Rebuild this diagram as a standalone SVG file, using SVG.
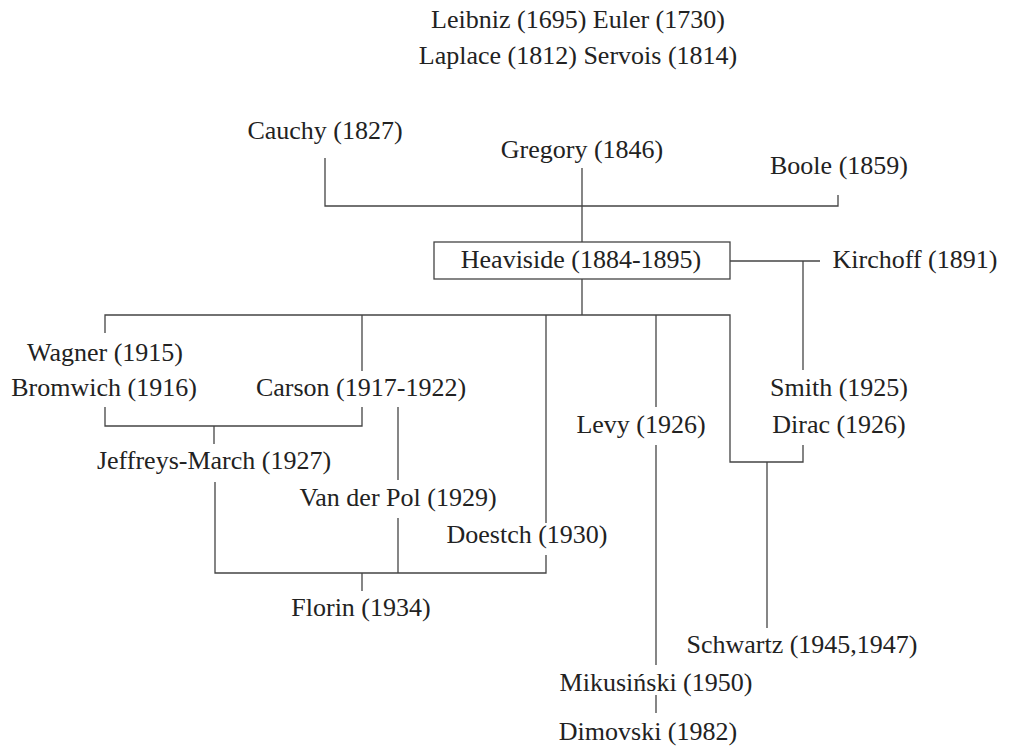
<svg xmlns="http://www.w3.org/2000/svg" width="1011" height="751" viewBox="0 0 1011 751">
<style>
text{font-family:"Liberation Serif","Times New Roman",serif;font-size:26px;fill:#222;text-anchor:middle}
.c line,.c polyline{stroke:#444;stroke-width:1.3;fill:none}
rect.box{fill:#fff;stroke:#444;stroke-width:1.3}
</style>
<rect width="1011" height="751" fill="#fff"/>
<g id="connectors" class="c">
<polyline points="325,158 325,206 838,206 838,195"/>
<line x1="582" y1="168" x2="582" y2="242"/>
<line x1="730" y1="261" x2="820" y2="261"/>
<line x1="803" y1="261" x2="803" y2="370"/>
<line x1="582" y1="279" x2="582" y2="315"/>
<polyline points="105,333 105,315 730,315 730,462 803,462 803,445"/>
<line x1="362" y1="315" x2="362" y2="371"/>
<line x1="546" y1="315" x2="546" y2="523"/>
<line x1="656" y1="315" x2="656" y2="407"/>
<polyline points="105,407 105,426 362,426 362,407"/>
<line x1="214" y1="426" x2="214" y2="444"/>
<line x1="398" y1="407" x2="398" y2="480"/>
<polyline points="215,482 215,573 546,573 546,555"/>
<line x1="398" y1="518" x2="398" y2="573"/>
<line x1="362" y1="573" x2="362" y2="591"/>
<line x1="656" y1="445" x2="656" y2="665"/>
<line x1="656" y1="695" x2="656" y2="713"/>
<line x1="767" y1="462" x2="767" y2="628"/>
</g>
<g id="n-leibniz"><text x="578" y="28">Leibniz (1695) Euler (1730)</text></g>
<g id="n-laplace"><text x="578" y="64">Laplace (1812) Servois (1814)</text></g>
<g id="n-cauchy"><text x="325" y="139">Cauchy (1827)</text></g>
<g id="n-gregory"><text x="582" y="158">Gregory (1846)</text></g>
<g id="n-boole"><text x="839" y="174">Boole (1859)</text></g>
<g id="n-heaviside"><rect class="box" x="434" y="242" width="296" height="37"/><text x="581" y="268">Heaviside (1884-1895)</text></g>
<g id="n-kirchoff"><text x="915" y="268">Kirchoff (1891)</text></g>
<g id="n-wagner"><text x="105" y="361">Wagner (1915)</text></g>
<g id="n-bromwich"><text x="104" y="396">Bromwich (1916)</text></g>
<g id="n-carson"><text x="361" y="396">Carson (1917-1922)</text></g>
<g id="n-smith"><text x="839" y="396">Smith (1925)</text></g>
<g id="n-levy"><text x="641" y="433">Levy (1926)</text></g>
<g id="n-dirac"><text x="839" y="433">Dirac (1926)</text></g>
<g id="n-jeffreys"><text x="214" y="469">Jeffreys-March (1927)</text></g>
<g id="n-vanderpol"><text x="398" y="506">Van der Pol (1929)</text></g>
<g id="n-doestch"><text x="527" y="543">Doestch (1930)</text></g>
<g id="n-florin"><text x="361" y="616">Florin (1934)</text></g>
<g id="n-schwartz"><text x="802" y="653">Schwartz (1945,1947)</text></g>
<g id="n-mikusinski"><text x="656" y="691">Mikusiński (1950)</text></g>
<g id="n-dimovski"><text x="648" y="740">Dimovski (1982)</text></g>
</svg>
